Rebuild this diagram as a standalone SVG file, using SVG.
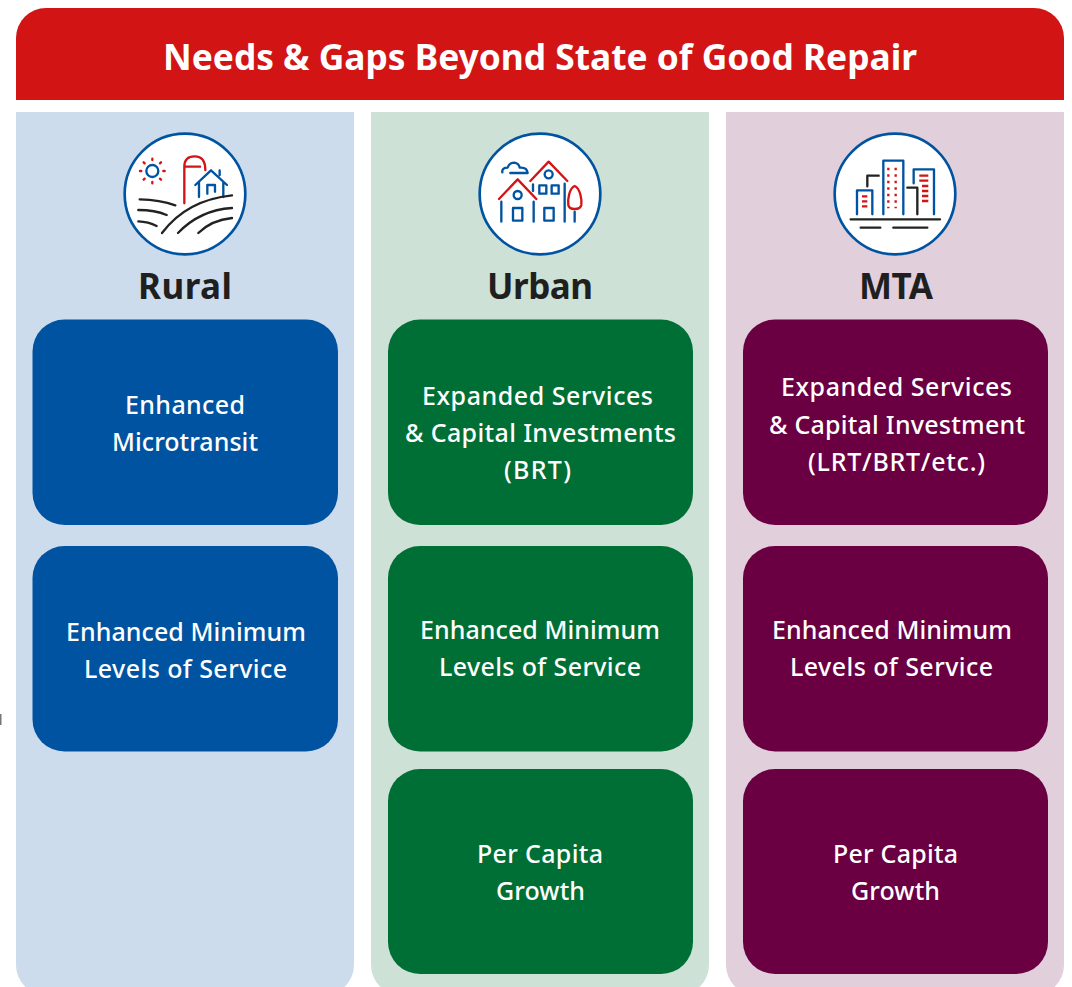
<svg xmlns="http://www.w3.org/2000/svg" width="1072" height="987" viewBox="0 0 1072 987">
<style>
text{font-family:"Noto Sans","Open Sans","Liberation Sans",sans-serif;text-anchor:middle}
.lbl{fill:#fff;font-size:25px;font-weight:500}
.hd{fill:#1f1f1f;font-size:35px;font-weight:700}
.ring{fill:#fff;stroke:#0053a0;stroke-width:8}
.i{fill:none;stroke-width:7;stroke-linecap:round;stroke-linejoin:round}
.b{stroke:#0053a0}.r{stroke:#d31415}.k{stroke:#222}
.dot{stroke:#d31415;stroke-width:7;fill:none}
.rural{fill:#0053a0}.urban{fill:#006f35}.mta{fill:#6a0042}
</style>
<rect width="1072" height="987" fill="#fff"/>
<rect x="0" y="714" width="1.5" height="11" fill="#777"/>
<g id="header">
<path d="M16 100V38A30 30 0 0 1 46 8H1034A30 30 0 0 1 1064 38V100Z" fill="#d31415"/>
<text x="540" y="70" font-size="35" font-weight="700" fill="#fff" textLength="754" lengthAdjust="spacingAndGlyphs">Needs &amp; Gaps Beyond State of Good Repair</text>
</g>
<g id="column-rural">
<path d="M16 112H354V965A30 30 0 0 1 324 995H46A30 30 0 0 1 16 965Z" fill="#cddcec"/>
</g>
<g id="column-urban">
<path d="M371 112H709V965A30 30 0 0 1 679 995H401A30 30 0 0 1 371 965Z" fill="#cde1d7"/>
</g>
<g id="column-mta">
<path d="M726 112H1064V965A30 30 0 0 1 1034 995H756A30 30 0 0 1 726 965Z" fill="#e2cfdc"/>
</g>
<g id="icon-rural" transform="translate(110 125) scale(.3333)">
<circle class="ring" cx="225" cy="207" r="181"/>
<circle class="i b" cx="127" cy="138" r="18"/>
<path class="i r" d="M127 101v4M127 171v4M90 138h4M160 138h4M101 112l3 3M150 161l3 3M101 164l3-3M150 115l3-3"/>
<path class="i r" d="M223 235V125Q223 94 254 94Q286 94 286 135M223 125H270"/>
<path class="i b" d="M256 180L303 136L351 180M267 172V216M340 172V216M329 150V136M292 206V180H315V200"/>
<path class="i k" d="M89 223Q150 224 196 241M85 255Q135 255 170 270M85 289Q115 290 140 303"/>
<path class="i k" d="M156 324Q230 225 366 211M204 324Q270 255 366 249M265 324Q305 285 366 279"/>
</g>
<g id="icon-urban" transform="translate(465 125) scale(.3333)">
<circle class="ring" cx="225" cy="207" r="181"/>
<path class="i b" d="M112 142Q110 128 128 128Q133 113 148 113Q162 115 164 128Q186 126 188 144H136"/>
<path class="i r" d="M102 222L158 163L214 222M196 168L251 110L307 168"/>
<circle class="i b" cx="158" cy="210" r="12"/>
<circle class="i b" cx="251" cy="148" r="12"/>
<path class="i b" d="M109 230V290M206 230V290M204 178V198M299 176V290M329 260V290"/>
<rect class="i b" x="144" y="249" width="28" height="38"/>
<rect class="i b" x="238" y="249" width="28" height="38"/>
<rect class="i b" x="223" y="181" width="21" height="25"/>
<rect class="i b" x="260" y="181" width="21" height="25"/>
<path class="i r" d="M329 183C312 190 308 225 310 240C312 256 346 256 349 240C351 225 346 190 329 183Z"/>
</g>
<g id="icon-mta" transform="translate(820 125) scale(.3333)">
<circle class="ring" cx="225" cy="207" r="181"/>
<path class="i b" d="M111 268V196H157V268M190 268V107H250V268M281 175V133H342V268"/>
<path class="i k" d="M142 184V152H176M262 188H292V268M92 283H360M122 308H181M220 308H322"/>
<path class="dot" d="M205 128V250M227 128V250" stroke-dasharray="8 11.5"/>
<path class="dot" d="M126 214H142M126 229H142M126 244H142M298 152H325M298 167H325M306 183H325M306 198H325M306 213H325M306 228H325"/>
</g>
<g id="label-rural"><text class="hd" x="185" y="299" textLength="94">Rural</text></g>
<g id="label-urban"><text class="hd" x="540" y="299" textLength="106">Urban</text></g>
<g id="label-mta"><text class="hd" x="896" y="299" textLength="74">MTA</text></g>
<g id="rural-1"><rect class="rural" x="32.5" y="319.5" width="305.5" height="205.5" rx="32"/>
<text class="lbl" x="185" y="414" textLength="120">Enhanced</text><text class="lbl" x="185" y="451" textLength="146">Microtransit</text></g>
<g id="rural-2"><rect class="rural" x="32.5" y="546" width="305.5" height="205.5" rx="32"/>
<text class="lbl" x="186" y="641" textLength="240">Enhanced Minimum</text><text class="lbl" x="185.500" y="678" textLength="203">Levels of Service</text></g>
<g id="urban-1"><rect class="urban" x="388" y="319.5" width="305" height="205.500" rx="32"/>
<text class="lbl" x="537.500" y="405" textLength="231">Expanded Services</text><text class="lbl" x="540.500" y="442" textLength="271">&amp; Capital Investments</text><text class="lbl" x="537.500" y="479" textLength="67">(BRT)</text></g>
<g id="urban-2"><rect class="urban" x="388" y="546" width="305" height="205.500" rx="32"/>
<text class="lbl" x="540" y="639" textLength="240">Enhanced Minimum</text><text class="lbl" x="540" y="676" textLength="202">Levels of Service</text></g>
<g id="urban-3"><rect class="urban" x="388" y="769" width="305" height="205" rx="32"/>
<text class="lbl" x="540" y="863" textLength="126">Per Capita</text><text class="lbl" x="540.500" y="900" textLength="89">Growth</text></g>
<g id="mta-1"><rect class="mta" x="743" y="319.5" width="305" height="205.500" rx="32"/>
<text class="lbl" x="896.500" y="396" textLength="231">Expanded Services</text><text class="lbl" x="897" y="434" textLength="256">&amp; Capital Investment</text><text class="lbl" x="896.500" y="471" textLength="177">(LRT/BRT/etc.)</text></g>
<g id="mta-2"><rect class="mta" x="743" y="546" width="305" height="205.500" rx="32"/>
<text class="lbl" x="892" y="639" textLength="240">Enhanced Minimum</text><text class="lbl" x="891.500" y="676" textLength="203">Levels of Service</text></g>
<g id="mta-3"><rect class="mta" x="743" y="769" width="305" height="205" rx="32"/>
<text class="lbl" x="895.500" y="863" textLength="125">Per Capita</text><text class="lbl" x="895.500" y="900" textLength="89">Growth</text></g>
<g id="connectors"/>
</svg>
